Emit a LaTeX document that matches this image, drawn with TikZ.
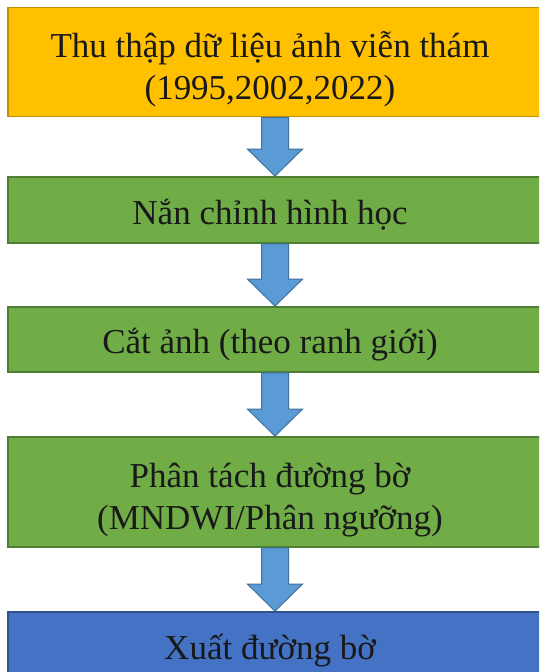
\documentclass[tikz,border=0pt]{standalone}
\usepackage{fontspec}
\setmainfont{Liberation Serif}
\usetikzlibrary{calc}
\definecolor{yel}{HTML}{FFC000}
\definecolor{yelb}{HTML}{BF9000}
\definecolor{grn}{HTML}{70AD47}
\definecolor{grnb}{HTML}{507E32}
\definecolor{blu}{HTML}{4472C4}
\definecolor{blub}{HTML}{2F528F}
\definecolor{arr}{HTML}{5B9BD5}
\definecolor{arrb}{HTML}{41719C}
\tikzset{
  x=1pt, y=1pt,
  box/.style={draw, line width=1.8pt, rectangle, inner sep=0pt, minimum width=540pt},
  txt/.style={align=center, inner sep=0pt, font=\fontsize{35}{42}\selectfont, text=black!90},
  fatarrow/.style={fill=arr, draw=arrb, line width=1pt, line join=miter},
}
\newcommand{\fatarrowdraw}[2]{%
  \draw[fatarrow] ($(#1)+(-13.5,0)$) -- ($(#1)+(13.5,0)$) -- ($(#2)+(13.5,27)$) -- ($(#2)+(27.5,27)$) -- (#2) -- ($(#2)+(-27.5,27)$) -- ($(#2)+(-13.5,27)$) -- cycle;}
\begin{document}
\begin{tikzpicture}
\useasboundingbox (0,0) rectangle (539,-672);
\clip (0,0) rectangle (539,-672);
\fill[white] (0,0) rectangle (539,-672);
% boxes
\node[box, fill=yel, draw=yelb, minimum height=109pt] (b1) at (278,-62) {};
\node[box, fill=grn, draw=grnb, minimum height=66pt] (b2) at (278,-210) {};
\node[box, fill=grn, draw=grnb, minimum height=65pt] (b3) at (278,-339.5) {};
\node[box, fill=grn, draw=grnb, minimum height=110pt] (b4) at (278,-492) {};
\node[box, fill=blu, draw=blub, minimum height=66pt] (b5) at (278,-645) {};
% texts
\node[txt] (t1) at (270,-69) {Thu thập dữ liệu ảnh viễn thám\\(1995,2002,2022)};
\node[txt] (t2) at (270,-215) {Nắn chỉnh hình học};
\node[txt] (t3) at (270,-345) {Cắt ảnh (theo ranh giới)};
\node[txt] (t4) at (270,-500) {Phân tách đường bờ\\(MNDWI/Phân ngưỡng)};
\node[txt] (t5) at (270,-651) {Xuất đường bờ};
% arrows
\coordinate (a1s) at ($(b1.south)+(-3,0)$);
\coordinate (a1e) at ($(b2.north)+(-3,0)$);
\coordinate (a2s) at ($(b2.south)+(-3,0)$);
\coordinate (a2e) at ($(b3.north)+(-3,0)$);
\coordinate (a3s) at ($(b3.south)+(-3,0)$);
\coordinate (a3e) at ($(b4.north)+(-3,0)$);
\coordinate (a4s) at ($(b4.south)+(-3,0)$);
\coordinate (a4e) at ($(b5.north)+(-3,0)$);
\fatarrowdraw{a1s}{a1e}
\fatarrowdraw{a2s}{a2e}
\fatarrowdraw{a3s}{a3e}
\fatarrowdraw{a4s}{a4e}
\end{tikzpicture}
\end{document}
